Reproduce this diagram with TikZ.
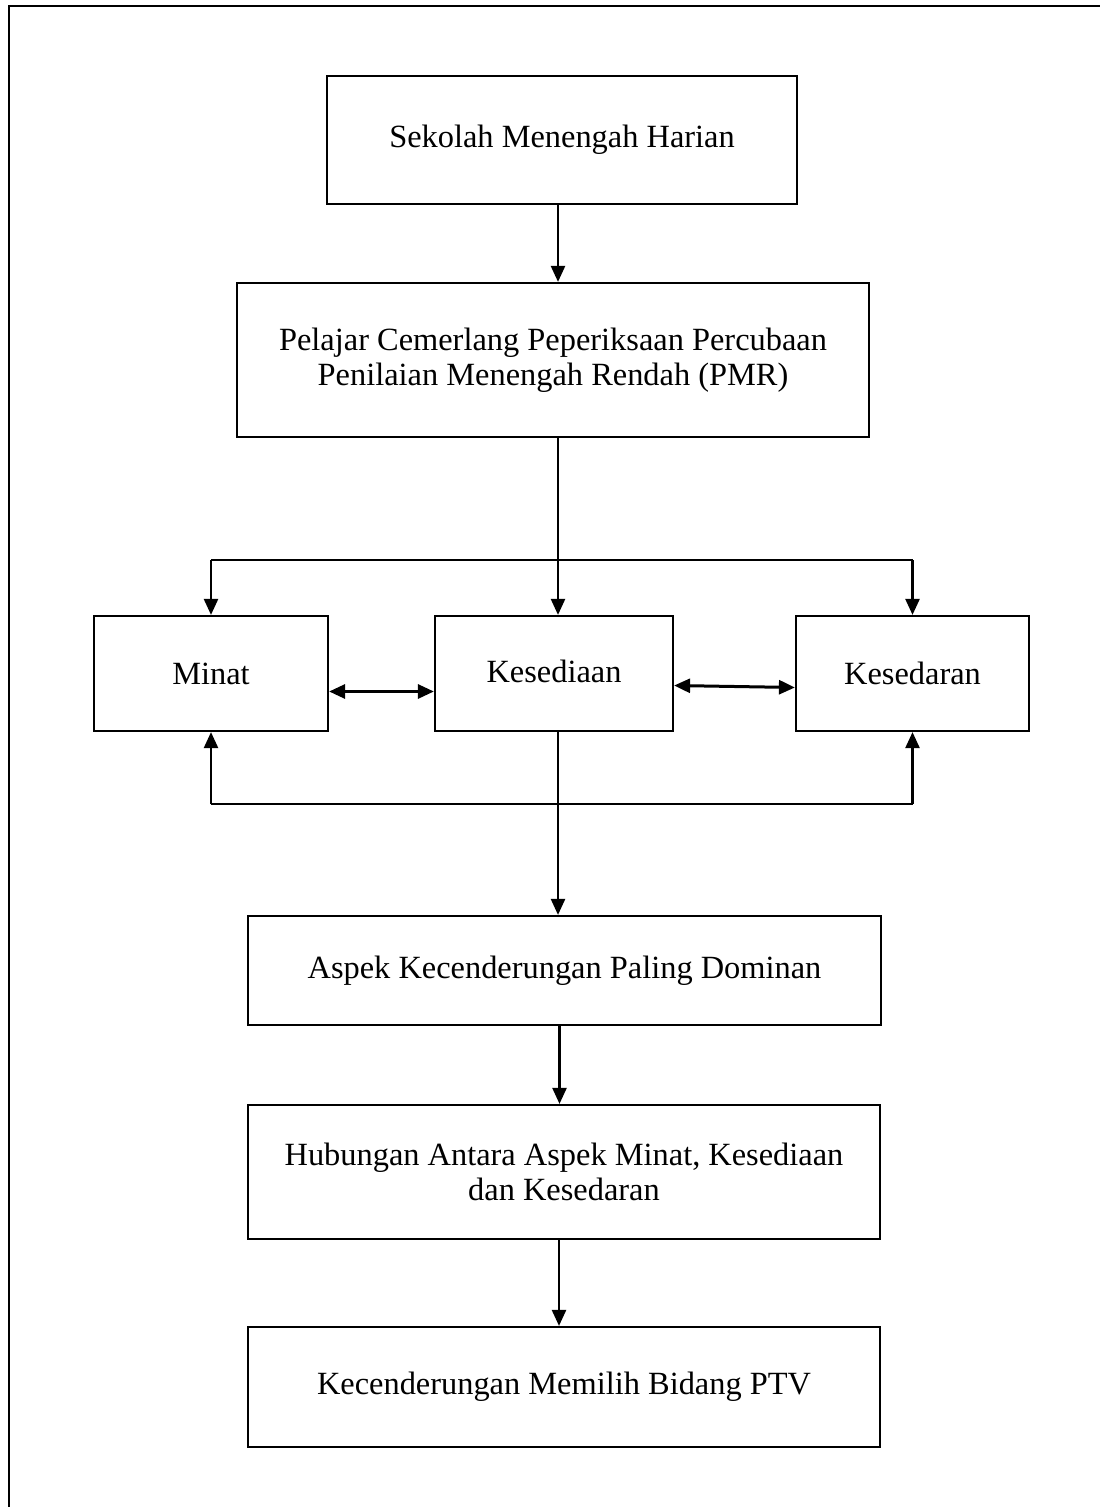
\documentclass[tikz,border=0pt]{standalone}
\usepackage{fontspec}
\setmainfont{Liberation Serif}
\usetikzlibrary{arrows.meta,calc}
\begin{document}
\begin{tikzpicture}[x=0.5pt,y=-0.5pt,
  box/.style={draw,line width=1.1pt,inner sep=0pt,align=center,font=\fontsize{16.2}{17.5}\selectfont},
  arr/.style={line width=1.2pt,-{Triangle[length=8pt,width=7pt]}},
  darr/.style={line width=1.5pt,{Triangle[length=8pt,width=7pt]}-{Triangle[length=8pt,width=7pt]}},
  conn/.style={line width=1.2pt}]
\useasboundingbox (0,0) rectangle (1099,1507);
\draw[line width=1.3pt] (9,1510) -- (9,6) -- (1102,6);

\node[box,minimum width=235pt,minimum height=64pt] (b1) at (562,140) {Sekolah Menengah Harian};
\node[box,minimum width=316pt,minimum height=77pt] (b2) at (553,360) {Pelajar Cemerlang Peperiksaan Percubaan\\Penilaian Menengah Rendah (PMR)};
\node[box,minimum width=117pt,minimum height=57.5pt] (minat) at (211,673.5) {Minat};
\node[box,minimum width=119pt,minimum height=57.5pt] (kesediaan) at (554,673.5) {Kesediaan\\[-15pt]};
\node[box,minimum width=116.5pt,minimum height=57.5pt] (kesedaran) at (912.5,673.5) {Kesedaran};
\node[box,minimum width=316.5pt,minimum height=54.5pt] (aspek) at (564.5,970.5) {Aspek Kecenderungan Paling Dominan};
\node[box,minimum width=316pt,minimum height=67pt] (hub) at (564,1172) {Hubungan Antara Aspek Minat, Kesediaan\\dan Kesedaran};
\node[box,minimum width=316pt,minimum height=60pt] (kec) at (564,1387) {Kecenderungan Memilih Bidang PTV};

\coordinate (jt) at (558,560);
\coordinate (jb) at (558,804);

\draw[arr] ([xshift=-2pt]b1.south) -- ([xshift=-2pt]b1.south |- b2.north);
\draw[conn] (b2.south -| jt) -- (jt);
\draw[conn] (minat.north |- jt) -- (kesedaran.north |- jt);
\draw[arr] (jt) -- (jt |- kesediaan.north);
\draw[arr] (minat.north |- jt) -- (minat.north);
\draw[arr] (kesedaran.north |- jt) -- (kesedaran.north);

\draw[darr] ([yshift=-9pt]minat.east) -- ([yshift=-9pt]kesediaan.west);
\draw[darr] ([yshift=-6pt]kesediaan.east) -- ([yshift=-7pt]kesedaran.west);

\draw[conn] (minat.south |- jb) -- (kesedaran.south |- jb);
\draw[arr] (minat.south |- jb) -- (minat.south);
\draw[arr] (kesedaran.south |- jb) -- (kesedaran.south);
\draw[arr] (jb |- kesediaan.south) -- (jb |- aspek.north);

\draw[arr] ([xshift=-2.5pt]aspek.south) -- ([xshift=-2.5pt]aspek.south |- hub.north);
\draw[arr] ([xshift=-2.5pt]hub.south) -- ([xshift=-2.5pt]hub.south |- kec.north);
\end{tikzpicture}
\end{document}
